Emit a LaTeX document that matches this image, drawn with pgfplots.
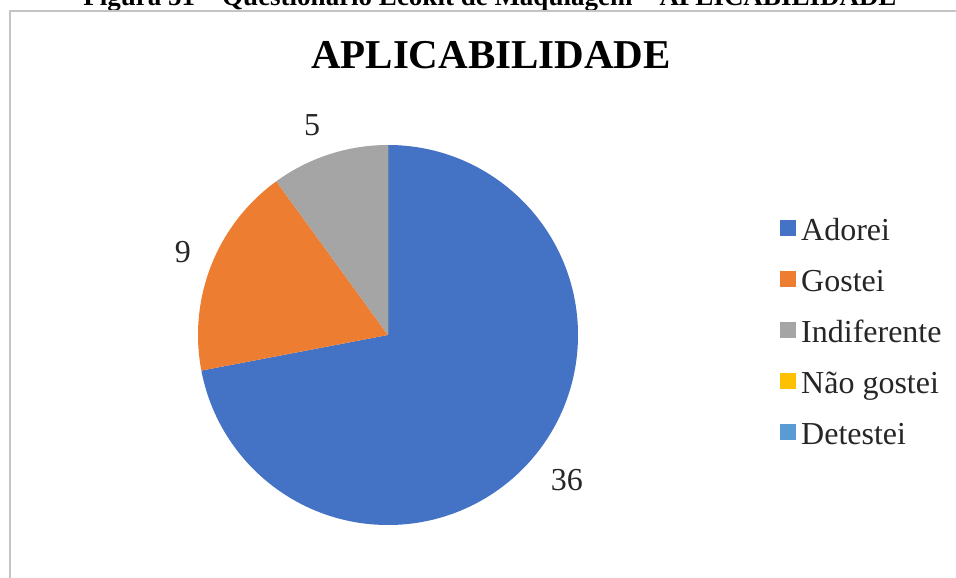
\documentclass[border=0pt]{standalone}
\usepackage{pgfplots}
\pgfplotsset{compat=1.18}
\usepackage{pgfplotstable}
\usepackage{fontspec}
\setmainfont{Liberation Serif}
\definecolor{pie0}{HTML}{4472C4}
\definecolor{pie1}{HTML}{ED7D31}
\definecolor{pie2}{HTML}{A5A5A5}
\definecolor{pie3}{HTML}{FFC000}
\definecolor{pie4}{HTML}{5B9BD5}
\definecolor{frame}{HTML}{C4C4C4}
\definecolor{txt}{HTML}{262626}
% value, start and end angle (Excel: from 12 o'clock, clockwise; total 50)
\pgfplotstableread{
x y value sa ea idx
0 0 36 90 -169.2 0
0 0 9 190.8 126 1
0 0 5 126 90 2
0 0 0 90 90 3
0 0 0 90 90 4
}\slices
\pgfplotstableread{
lx ly value
0.942 -0.763 36
-1.079 0.437 9
-0.400 1.105 5
}\labels
\newcommand\pieR{190pt}
\begin{document}
\begin{tikzpicture}
\useasboundingbox (0,0) rectangle (956pt,-578pt);
\clip (0,0) rectangle (956pt,-578pt);
\fill[white] (0,0) rectangle (956pt,-578pt);
\node[anchor=base, inner sep=0pt, font=\fontsize{27}{27}\selectfont\bfseries] at (490pt,-6pt) {Figura 51 – Questionário Ecokit de Maquiagem – APLICABILIDADE};
\draw[frame, line width=1.5pt] (10pt,-600pt) -- (10pt,-11pt) -- (980pt,-11pt);
\node[anchor=base, inner sep=0pt, font=\fontsize{41}{41}\selectfont\bfseries] at (491pt,-69pt) {APLICABILIDADE};
\begin{axis}[
  at={(388pt,-335pt)}, anchor=center,
  scale only axis, width=380pt, height=380pt,
  xmin=-1, xmax=1, ymin=-1, ymax=1,
  hide axis, clip=false,
  legend image code/.code={\fill[#1] (0pt,-3pt) rectangle (16pt,13pt);},
  legend style={at={(1.5316,0.5)}, anchor=west, draw=none, fill=none, inner sep=0pt,
     font=\fontsize{32}{32}\selectfont, text=txt, row sep=22pt, column sep=5pt,
     nodes={inner sep=0pt, text height=22pt, text depth=7pt}},
  legend cell align=left,
]
\addplot[forget plot, scatter, only marks, mark=*, mark size=0pt,
  mark options={draw=none, fill=none},
  point meta=\thisrow{value},
  visualization depends on={\thisrow{sa} \as \sa},
  visualization depends on={\thisrow{ea} \as \ea},
  visualization depends on={\thisrow{idx} \as \idx},
  scatter/@pre marker code/.code={\pgfmathtruncatemacro\k{\idx}%
    \fill[pie\k, fill opacity=1, draw=none] (0pt,0pt) -- (\sa:\pieR) arc[start angle=\sa, end angle=\ea, radius=\pieR] -- cycle;},
  scatter/@post marker code/.code={},
] table[x=x, y=y] {\slices};
\addplot[forget plot, only marks, mark=*, mark size=0pt, mark options={draw=none, fill=none},
  nodes near coords, point meta=explicit symbolic,
  every node near coord/.append style={anchor=center, inner sep=0pt, font=\fontsize{32}{32}\selectfont, text=txt}]
  table[x=lx, y=ly, meta=value] {\labels};
\addlegendimage{fill=pie0, draw=none}\addlegendentry{Adorei}
\addlegendimage{fill=pie1, draw=none}\addlegendentry{Gostei}
\addlegendimage{fill=pie2, draw=none}\addlegendentry{Indiferente}
\addlegendimage{fill=pie3, draw=none}\addlegendentry{Não gostei}
\addlegendimage{fill=pie4, draw=none}\addlegendentry{Detestei}
\end{axis}
\end{tikzpicture}
\end{document}
